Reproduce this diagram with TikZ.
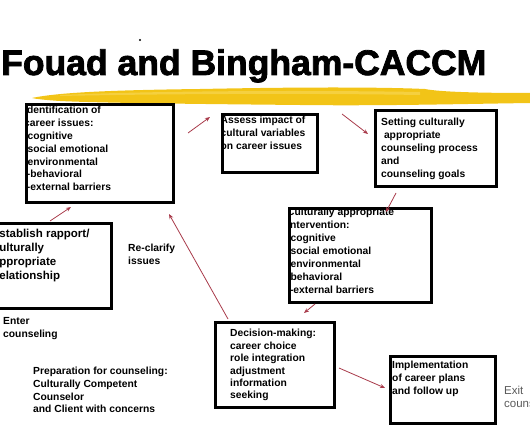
\documentclass[tikz,border=0pt]{standalone}
\usepackage{fontspec}
\setmainfont{Liberation Sans}
\newfontfamily\titlefont[FakeBold=2.2]{Liberation Sans Bold}
\usetikzlibrary{arrows.meta}
\definecolor{arrowred}{HTML}{A83A4A}
\definecolor{brushA}{HTML}{F2C417}
\definecolor{brushB}{HTML}{F7D95A}
\definecolor{exitgray}{HTML}{5A5A5A}
\tikzset{
  box/.style={draw=black, line width=2.6bp, fill=none, inner sep=0pt},
  txt/.style={inner sep=0pt, anchor=north west, align=left, font=\fontsize{10.3bp}{12.8bp}\selectfont\bfseries},
  bigtxt/.style={inner sep=0pt, anchor=north west, align=left, font=\fontsize{11.5bp}{14.2bp}\selectfont\bfseries},
  link/.style={draw=arrowred, line width=0.8bp, -{Stealth[length=5bp,width=4bp]}},
}
\begin{document}
\begin{tikzpicture}[x=1bp,y=-1bp]
\useasboundingbox (0,0) rectangle (530,442);
% brush stroke
\fill[brushA] (32,98) .. controls (60,92) and (120,90) .. (200,89)
  .. controls (300,87) and (380,87) .. (425,89)
  .. controls (440,92) and (480,93) .. (530,93)
  -- (530,103) .. controls (460,104) and (380,106) .. (300,105)
  .. controls (200,104) and (100,103) .. (60,101) .. controls (45,100) and (36,99) .. (32,98) -- cycle;
\fill[brushB, opacity=0.6] (60,95) .. controls (150,91) and (300,90) .. (420,92)
  -- (420,95) .. controls (300,93) and (150,94) .. (60,96) -- cycle;
% title
\node[inner sep=0pt, anchor=base west, font=\fontsize{35.5bp}{40bp}\selectfont\titlefont] (title) at (1,75) {Fouad and Bingham-CACCM};
\fill (140,40) circle (1.1bp);
\coordinate (dot) at (140,40);

% boxes
\node[box, anchor=north west, minimum width=147bp, minimum height=98bp] (ident) at (25,103) {};
\begin{scope}
\clip (25.6,103) rectangle (172,201);
\node[txt] (identtxt) at (24,106.2) {Identification of\\career issues:\\-cognitive\\-social emotional\\-environmental\\\hspace{2.8bp}-behavioral\\\hspace{2.8bp}-external barriers};
\end{scope}

\node[box, anchor=north west, minimum width=95bp, minimum height=58bp] (assess) at (221,113) {};
\begin{scope}
\clip (221.6,113) rectangle (316,171);
\node[txt] (assesstxt) at (220.5,116.2) {Assess impact of\\cultural variables\\on career issues};
\end{scope}

\node[box, anchor=north west, minimum width=121bp, minimum height=76bp] (setting) at (374,109) {};
\node[txt, font=\fontsize{10.3bp}{13bp}\selectfont\bfseries] (settingtxt) at (381,118.2) {Setting culturally\\\hspace{2.8bp}appropriate\\counseling process\\and\\counseling goals};

\node[box, anchor=north west, minimum width=142bp, minimum height=94bp] (interv) at (288,207) {};
\begin{scope}
\clip (288.6,207) rectangle (430,301);
\node[txt, font=\fontsize{10.3bp}{12.9bp}\selectfont\bfseries] (intervtxt) at (287,208.2) {Culturally appropriate\\intervention:\\-cognitive\\-social emotional\\-environmental\\-behavioral\\\hspace{2.8bp}-external barriers};
\end{scope}

\node[box, anchor=north west, minimum width=116bp, minimum height=85bp] (estab) at (-6,222) {};
\node[bigtxt] (estabtxt) at (-0.8,228.8) {stablish rapport/\\ulturally\\ppropriate\\elationship};

\node[box, anchor=north west, minimum width=119bp, minimum height=85bp] (decis) at (214,321) {};
\node[txt, font=\fontsize{10.3bp}{12.4bp}\selectfont\bfseries] (decistxt) at (230,329.2) {Decision-making:\\career choice\\role integration\\adjustment\\information\\seeking};

\node[box, anchor=north west, minimum width=105bp, minimum height=67bp] (implem) at (389,355) {};
\node[txt, font=\fontsize{10.3bp}{13bp}\selectfont\bfseries] (implemtxt) at (392,361.2) {Implementation\\of career plans\\and follow up};

% free labels
\node[txt, font=\fontsize{10.3bp}{13bp}\selectfont\bfseries] (reclar) at (128,244.2) {Re-clarify\\issues};
\node[txt, font=\fontsize{10.3bp}{13bp}\selectfont\bfseries] (enter) at (3,317.2) {Enter\\counseling};
\node[txt, font=\fontsize{10.3bp}{12.7bp}\selectfont\bfseries] (prep) at (33,367.2) {Preparation for counseling:\\Culturally Competent\\Counselor\\and Client with concerns};
\node[txt, font=\fontsize{11.5bp}{13bp}\selectfont, text=exitgray] (exit) at (504,385.8) {Exit\\couns};

% arrow end points
\coordinate (a1s) at (50,221); \coordinate (a1e) at (71,207);
\coordinate (a2s) at (188,133); \coordinate (a2e) at (210,117);
\coordinate (a3s) at (342,114); \coordinate (a3e) at (368,134);
\coordinate (a4s) at (396,193); \coordinate (a4e) at (386,212);
\coordinate (a5s) at (315,304); \coordinate (a5e) at (304,313);
\coordinate (a6s) at (228,319); \coordinate (a6e) at (169,214);
\coordinate (a7s) at (339,368); \coordinate (a7e) at (385,388);

\draw[link] (a1s) -- (a1e);
\draw[link] (a2s) -- (a2e);
\draw[link] (a3s) -- (a3e);
\draw[link] (a4s) -- (a4e);
\draw[link] (a5s) -- (a5e);
\draw[link] (a6s) -- (a6e);
\draw[link] (a7s) -- (a7e);
\end{tikzpicture}
\end{document}
